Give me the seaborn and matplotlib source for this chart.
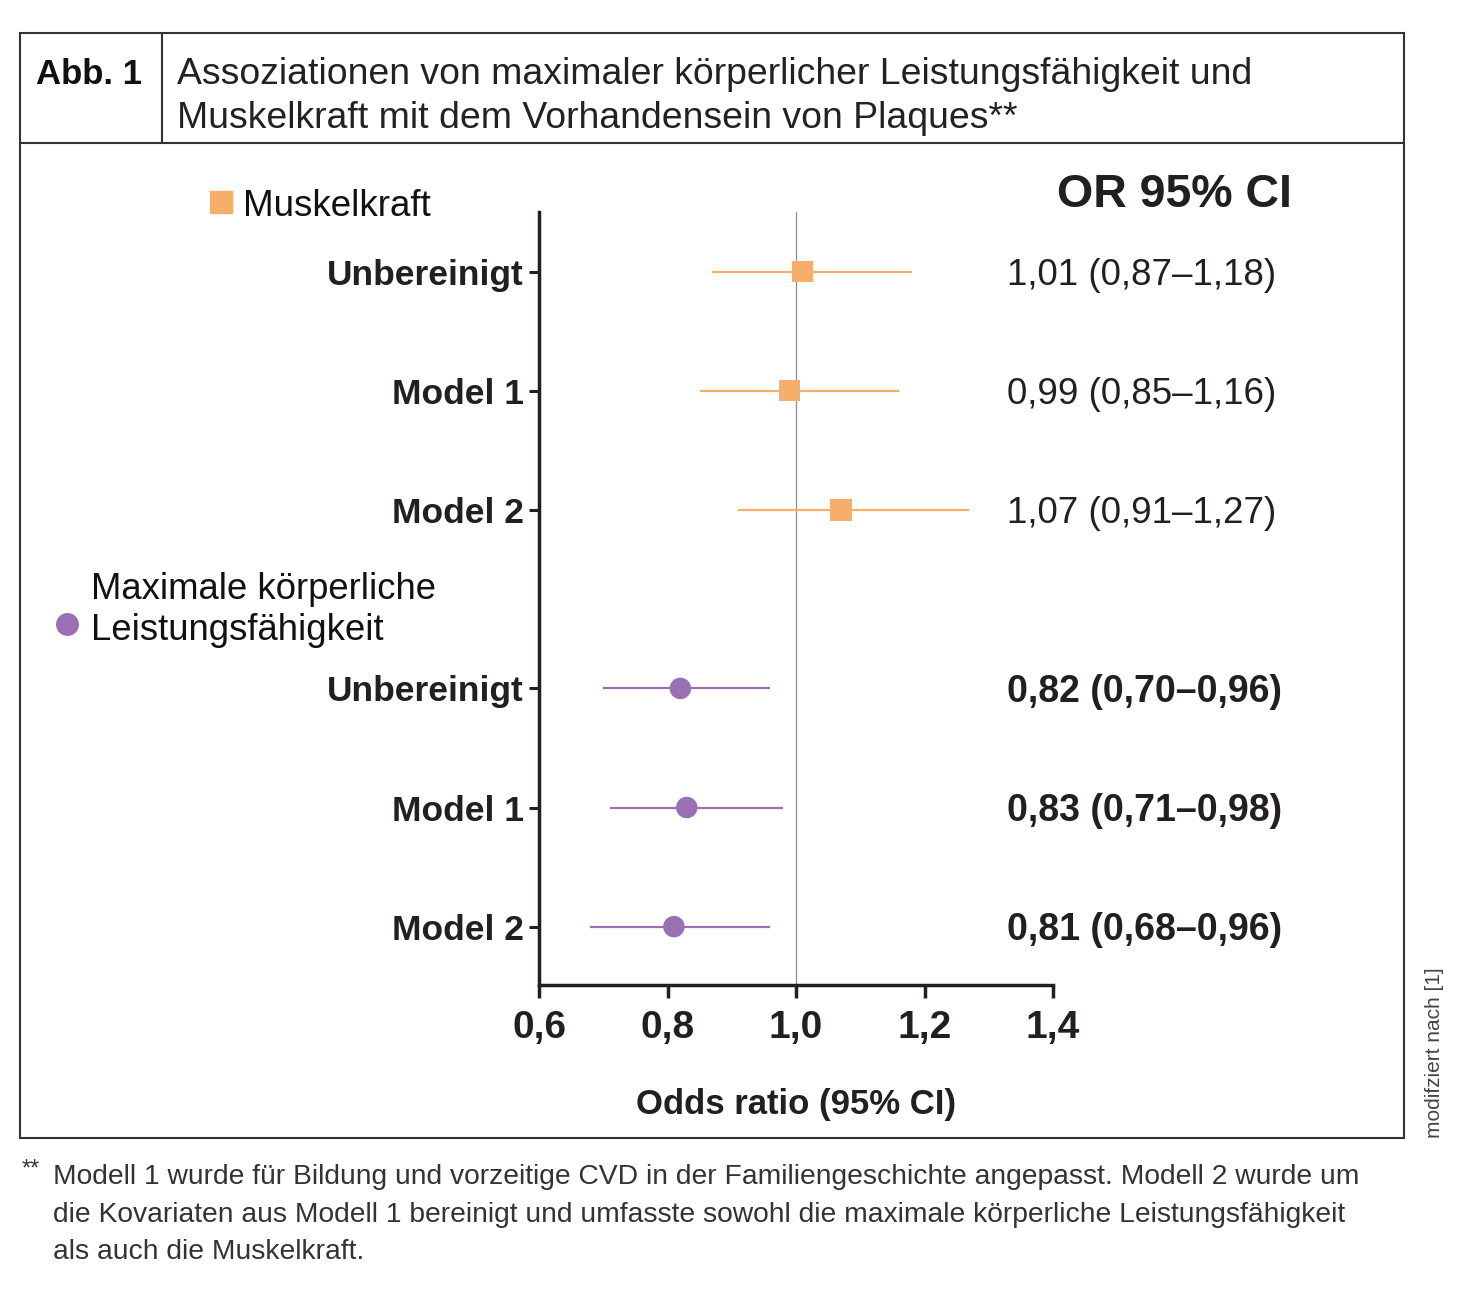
import matplotlib
matplotlib.use("Agg")
import pandas as pd
import seaborn as sns
import matplotlib.pyplot as plt
from matplotlib import font_manager
from matplotlib.lines import Line2D
from matplotlib.patches import Rectangle

# data
groups = ["Muskelkraft", "Maximale körperliche\nLeistungsfähigkeit"]
models = ["Unbereinigt", "Model 1", "Model 2"]
or_muskel = [1.01, 0.99, 1.07]
lo_muskel = [0.87, 0.85, 0.91]
hi_muskel = [1.18, 1.16, 1.27]
or_fit = [0.82, 0.83, 0.81]
lo_fit = [0.70, 0.71, 0.68]
hi_fit = [0.96, 0.98, 0.96]
x_ticks = [0.6, 0.8, 1.0, 1.2, 1.4]
x_ticklabels = ["0,6", "0,8", "1,0", "1,2", "1,4"]

title_lines = ["Assoziationen von maximaler körperlicher Leistungsfähigkeit und",
               "Muskelkraft mit dem Vorhandensein von Plaques**"]
footnote = ("Modell 1 wurde für Bildung und vorzeitige CVD in der Familiengeschichte angepasst. Modell 2 wurde um\n"
            "die Kovariaten aus Modell 1 bereinigt und umfasste sowohl die maximale körperliche Leistungsfähigkeit\n"
            "als auch die Muskelkraft.")

colors = {groups[0]: "#F6AE6A", groups[1]: "#9B6FB3"}
markers = {groups[0]: "s", groups[1]: "o"}

# build table
rows = []
for g, (ors, los, his) in enumerate([(or_muskel, lo_muskel, hi_muskel), (or_fit, lo_fit, hi_fit)]):
    for m, name in enumerate(models):
        rows.append({"group": groups[g], "model": name, "OR": ors[m], "lo": los[m],
                     "hi": his[m], "y": g * 3.5 + m})
df = pd.DataFrame(rows)


def fmt(v):
    return f"{v:.2f}".replace(".", ",")


df["label"] = [f"{fmt(o)} ({fmt(l)}–{fmt(h)})" for o, l, h in zip(df.OR, df.lo, df.hi)]

sns.set_theme(style="ticks")
names = {f.name for f in font_manager.fontManager.ttflist}
cond = "Liberation Sans Narrow" if "Liberation Sans Narrow" in names else "Liberation Sans"
plt.rcParams["font.family"] = ["Liberation Sans", "DejaVu Sans"]

W, H = 1479, 1301
dark = "#231F20"
fig = plt.figure(figsize=(W / 100, H / 100), dpi=100)
ax = fig.add_axes([539 / W, 1 - 985 / H, 514 / W, 773 / H])

ax.axvline(1.0, color="#8c8c8c", lw=0.9, zorder=1)
ax.hlines(df.y, df.lo, df.hi, colors=df.group.map(colors), lw=1.6, zorder=2)
sns.scatterplot(data=df, x="OR", y="y", hue="group", style="group", palette=colors,
                markers=markers, s=240, linewidth=0, legend=False, ax=ax, zorder=3)

ax.set_xlim(0.6, 1.4)
ax.set_ylim(5.99, -0.5)
ax.set_xticks(x_ticks)
ax.set_xticklabels(x_ticklabels)
ax.set_yticks(df.y)
ax.set_yticklabels(df.model)
ax.set_ylabel("")
ax.set_xlabel("Odds ratio (95% CI)", fontfamily=cond, fontweight="bold", fontsize=25,
              color=dark, labelpad=30.5)
sns.despine(ax=ax)
for s in ["left", "bottom"]:
    ax.spines[s].set_linewidth(2.5)
    ax.spines[s].set_color(dark)
ax.tick_params(axis="y", length=7, width=2.2, pad=4, color=dark)
ax.tick_params(axis="x", length=9, width=2.5, pad=9, color=dark)
for lab in ax.get_xticklabels():
    lab.set_fontfamily(cond)
    lab.set_fontweight("bold")
    lab.set_fontsize(28)
    lab.set_color(dark)
for lab in ax.get_yticklabels():
    lab.set_fontfamily(cond)
    lab.set_fontweight("bold")
    lab.set_fontsize(25.5)
    lab.set_color(dark)

# OR column
for _, r in df.iterrows():
    sig = r.hi < 1
    ax.text(1.328, r.y + 0.03, r.label, va="center", ha="left", fontsize=27 if sig else 26.5,
            color=dark, fontweight="bold" if sig else "normal")
fig.text(1292 / W, 1 - 195 / H, "OR 95% CI", ha="right", va="center", fontsize=33.5,
         fontweight="bold", color=dark)

# group labels
fig.text(243 / W, 1 - 206 / H, groups[0], ha="left", va="center", fontsize=26.5, color="#111")
fig.add_artist(Line2D([221 / W], [1 - 202 / H], marker="s", ms=15.5, color=colors[groups[0]],
                      lw=0, transform=fig.transFigure))
fig.text(91 / W, 1 - 610 / H, groups[1], ha="left", va="center", fontsize=26.3, color="#111",
         linespacing=1.22)
fig.add_artist(Line2D([67 / W], [1 - 624 / H], marker="o", ms=15.5, color=colors[groups[1]],
                      lw=0, transform=fig.transFigure))

# frame and header
box = "#333333"
fig.add_artist(Rectangle((20 / W, 1 - 1138 / H), 1384 / W, 1105 / H, fill=False, lw=1.5,
                         edgecolor=box, transform=fig.transFigure))
fig.add_artist(Line2D([20 / W, 1404 / W], [1 - 143 / H] * 2, lw=1.5, color=box,
                      transform=fig.transFigure))
fig.add_artist(Line2D([162 / W] * 2, [1 - 33 / H, 1 - 143 / H], lw=1.5, color=box,
                      transform=fig.transFigure))
fig.text(36 / W, 1 - 74 / H, "Abb. 1", ha="left", va="center", fontsize=25,
         fontfamily=cond, fontweight="bold", color="#111")
fig.text(177 / W, 1 - 96.5 / H, "\n".join(title_lines), ha="left", va="center", fontsize=26.9,
         color="#222", linespacing=1.33)

# footnote and source
fig.text(22 / W, 1 - 1170 / H, "**", ha="left", va="center", fontsize=17, color="#333")
fig.text(53 / W, 1 - 1214.5 / H, footnote, ha="left", va="center", fontsize=20.3, color="#333",
         linespacing=1.58)
fig.text(1435 / W, 1 - 1138 / H, "modifziert nach [1]", rotation=90, ha="center",
         va="bottom", fontsize=15, color="#444")

fig.savefig("out.png", dpi=100)
